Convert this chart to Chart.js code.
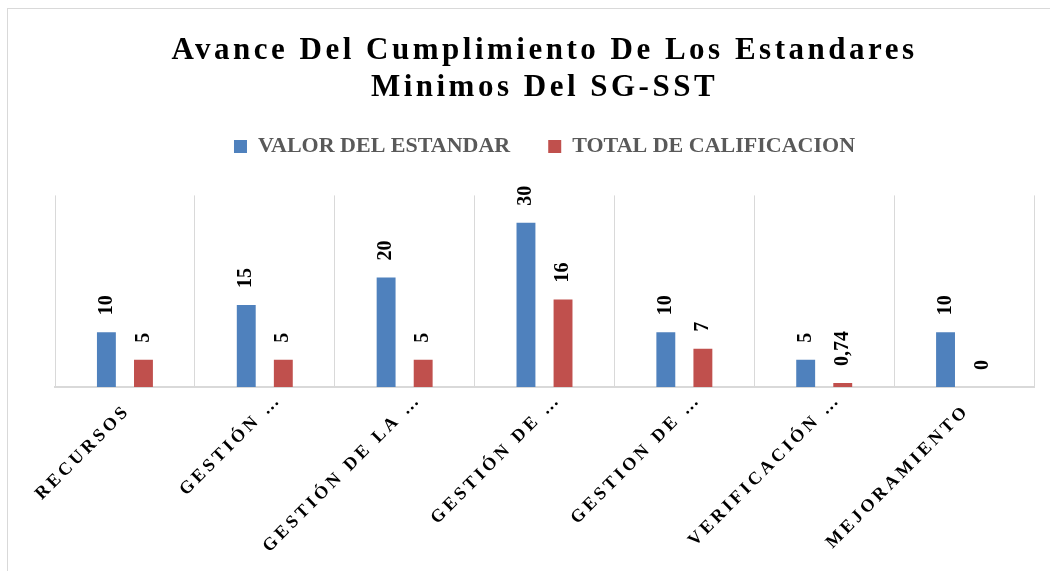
<!DOCTYPE html>
<html lang="es">
<head>
<meta charset="utf-8">
<title>Avance del cumplimiento SG-SST</title>
<script src="https://cdn.jsdelivr.net/npm/chart.js@4.4.1/dist/chart.umd.min.js"></script>
<style>
  html, body { margin: 0; padding: 0; background: #fff; overflow: hidden; }
  #wrap { position: relative; width: 1050px; height: 571px; }
  #marco { position: absolute; left: 7px; top: 8px; width: 1060px; height: 600px; border: 1px solid #d9d9d9; pointer-events: none; }
</style>
</head>
<body>
<div id="wrap">
  <canvas id="graficoSGSST"></canvas>
  <div id="marco"></div>
</div>
<script>
let categorias = ["RECURSOS  ", "GESTIÓN …", "GESTIÓN DE LA …", "GESTIÓN DE …", "GESTION DE …", "VERIFICACIÓN …", "MEJORAMIENTO  "];
let valorEstandar = [10, 15, 20, 30, 10, 5, 10];
let totalCalificacion = [5, 5, 5, 16, 7, 0.74, 0];

const fuenteTitulo = '"Liberation Serif", "Times New Roman", serif';
const fuenteEjes = '"Liberation Serif", "Tinos", serif';
const fuenteNormal = '"Liberation Serif", serif';

// el lienzo no tiene letter-spacing en Chart.js: se aplica según la familia de la fuente
const espaciado = [[fuenteTitulo, '3.5px'], [fuenteEjes, '3.5px']];
const lienzo = document.getElementById("graficoSGSST");
const ctx = lienzo.getContext("2d");
const descFont = Object.getOwnPropertyDescriptor(CanvasRenderingContext2D.prototype, 'font');
Object.defineProperty(ctx, 'font', {
  configurable: true,
  get() { return descFont.get.call(this); },
  set(v) {
    descFont.set.call(this, v);
    let esp = '0px';
    espaciado.forEach(([f, s]) => { if (String(v).endsWith(f)) esp = s; });
    if ('letterSpacing' in this) this.letterSpacing = esp;
  }
});

// espacio extra bajo la leyenda
const espacioLeyenda = {
  id: 'espacioLeyenda',
  beforeInit(chart) {
    const leyenda = chart.legend;
    if (!leyenda) return;
    const fitOriginal = leyenda.fit;
    leyenda.fit = function () {
      fitOriginal.call(this);
      this.height += 28;
    };
  }
};

// etiquetas de datos giradas encima de cada barra
const etiquetasDatos = {
  id: 'etiquetasDatos',
  afterDatasetsDraw(chart) {
    const c = chart.ctx;
    chart.data.datasets.forEach((ds, i) => {
      chart.getDatasetMeta(i).data.forEach((barra, j) => {
        const texto = String(ds.data[j]).replace('.', ',');
        c.save();
        c.translate(barra.x, barra.y - 17);
        c.rotate(-Math.PI / 2);
        c.font = 'bold 20px ' + fuenteNormal;
        c.fillStyle = '#000';
        c.textAlign = 'left';
        c.textBaseline = 'middle';
        c.fillText(texto, 0, 0);
        c.restore();
      });
    });
  }
};

let grafico = new Chart(lienzo, {
  type: 'bar',
  data: {
    labels: categorias,
    datasets: [
      {
        label: 'VALOR DEL ESTANDAR',
        data: valorEstandar,
        backgroundColor: '#4F81BD',
        categoryPercentage: 0.53,
        barPercentage: 0.51,
      },
      {
        label: 'TOTAL DE CALIFICACION',
        data: totalCalificacion,
        backgroundColor: '#C0504D',
        categoryPercentage: 0.53,
        barPercentage: 0.51,
      },
    ],
  },
  options: {
    responsive: true,
    maintainAspectRatio: false,
    animation: false,
    layout: { padding: { left: 55, right: 16, top: 0, bottom: 0 } },
    plugins: {
      title: {
        display: true,
        text: ['Avance Del Cumplimiento De Los Estandares', 'Minimos Del SG-SST'],
        color: '#000',
        font: { family: fuenteTitulo, size: 31, weight: 'bold', lineHeight: 1.2 },
        padding: { top: 32, bottom: -9 },
      },
      legend: {
        labels: {
          color: '#595959',
          font: { family: fuenteNormal, size: 22, weight: 'bold' },
          boxWidth: 13,
          boxHeight: 13,
          padding: 38,
        },
      },
      tooltip: { enabled: false },
    },
    scales: {
      x: {
        grid: { offset: true, color: '#d9d9d9', lineWidth: 1, drawTicks: false },
        border: { color: '#d9d9d9', width: 2 },
        ticks: {
          color: '#000',
          font: { family: fuenteEjes, size: 18, weight: 'bold' },
          minRotation: 45,
          maxRotation: 45,
          autoSkip: false,
          padding: 2,
          labelOffset: 14,
        },
        afterFit: (escala) => { escala.height = 184; },
      },
      y: { display: false, min: 0, max: 35 },
    },
  },
  plugins: [espacioLeyenda, etiquetasDatos],
});
</script>
</body>
</html>
